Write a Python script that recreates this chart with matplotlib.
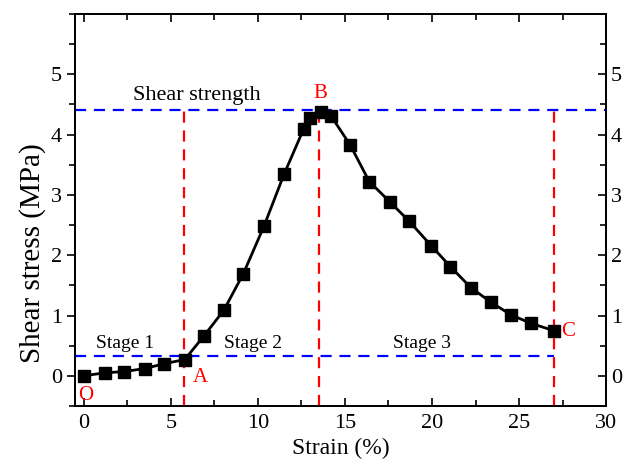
import matplotlib
matplotlib.use("Agg")
import matplotlib.pyplot as plt
from matplotlib.ticker import MultipleLocator

plt.rcParams['font.family'] = ['Liberation Serif', 'DejaVu Serif']

strain = [0.0, 1.2, 2.3, 3.5, 4.6, 5.8, 6.9, 8.05, 9.16, 10.35, 11.5, 12.64, 12.98,
          13.64, 14.2, 15.3, 16.4, 17.6, 18.7, 19.95, 21.06, 22.24, 23.39, 24.54,
          25.69, 26.98]
stress = [0.0, 0.05, 0.07, 0.12, 0.2, 0.27, 0.66, 1.09, 1.69, 2.48, 3.34, 4.10, 4.28,
          4.38, 4.31, 3.83, 3.22, 2.88, 2.56, 2.16, 1.81, 1.46, 1.22, 1.01, 0.87, 0.75]

shear_strength = 4.40
stage_level = 0.33
x_A, x_B, x_C = 5.75, 13.5, 27.0

fig = plt.figure(figsize=(6.38, 4.66), dpi=100)
ax = fig.add_axes([0.1176, 0.1288, 0.8324, 0.8412])

ax.plot(strain, stress, '-', color='black', lw=2, marker='s', ms=9,
        mfc='black', mec='black', zorder=5)

ax.plot([-0.5, 30], [shear_strength, shear_strength], color='blue', lw=1.6,
        dashes=(5, 3.5), zorder=3)
ax.plot([-0.5, x_C], [stage_level, stage_level], color='blue', lw=1.6,
        dashes=(5, 3.5), zorder=3)
for xv in (x_A, x_B, x_C):
    ax.plot([xv, xv], [-0.5, shear_strength], color='red', lw=1.6,
            dashes=(5, 3.5), zorder=3)

ax.set_xlim(-0.5, 30)
ax.set_ylim(-0.5, 6)
ax.xaxis.set_major_locator(MultipleLocator(5))
ax.xaxis.set_minor_locator(MultipleLocator(2.5))
ax.set_yticks([0, 1, 2, 3, 4, 5])
ax.yaxis.set_minor_locator(MultipleLocator(0.5))

ax.tick_params(axis='x', which='both', direction='in', top=True, labelsize=16,
               width=1.2, pad=6)
ax.tick_params(axis='x', which='major', length=6)
ax.tick_params(axis='x', which='minor', length=4)
ax.tick_params(axis='y', which='both', direction='out', labelsize=16, width=1.2)
ax.tick_params(axis='y', which='major', length=6)
ax.tick_params(axis='y', which='minor', length=4)

ax2 = ax.twinx()
ax2.set_ylim(-0.5, 6)
ax2.set_yticks([0, 1, 2, 3, 4, 5])
ax2.yaxis.set_minor_locator(MultipleLocator(0.5))
ax2.tick_params(axis='y', which='both', direction='in', labelsize=16, width=1.2)
ax2.tick_params(axis='y', which='major', length=6)
ax2.tick_params(axis='y', which='minor', length=4)

for a in (ax, ax2):
    for s in a.spines.values():
        s.set_linewidth(1.3)

ax.set_xlabel('Strain (%)', fontsize=17, labelpad=3)
ax.set_ylabel('Shear stress (MPa)', fontsize=21, labelpad=4)
ax.yaxis.set_label_coords(-0.055, 0.39)

ax.text(6.5, 4.57, 'Shear strength', fontsize=16, ha='center', va='baseline')
ax.text(2.4, 0.46, 'Stage 1', fontsize=14, ha='center', va='baseline')
ax.text(9.75, 0.46, 'Stage 2', fontsize=14, ha='center', va='baseline')
ax.text(19.45, 0.46, 'Stage 3', fontsize=14, ha='center', va='baseline')

ax.text(0.1, -0.33, 'O', color='red', fontsize=15, ha='center', va='center')
ax.text(6.7, -0.02, 'A', color='red', fontsize=15, ha='center', va='center')
ax.text(13.6, 4.68, 'B', color='red', fontsize=15, ha='center', va='center')
ax.text(27.8, 0.73, 'C', color='red', fontsize=15, ha='center', va='center')

fig.savefig('out.png', dpi=100)
